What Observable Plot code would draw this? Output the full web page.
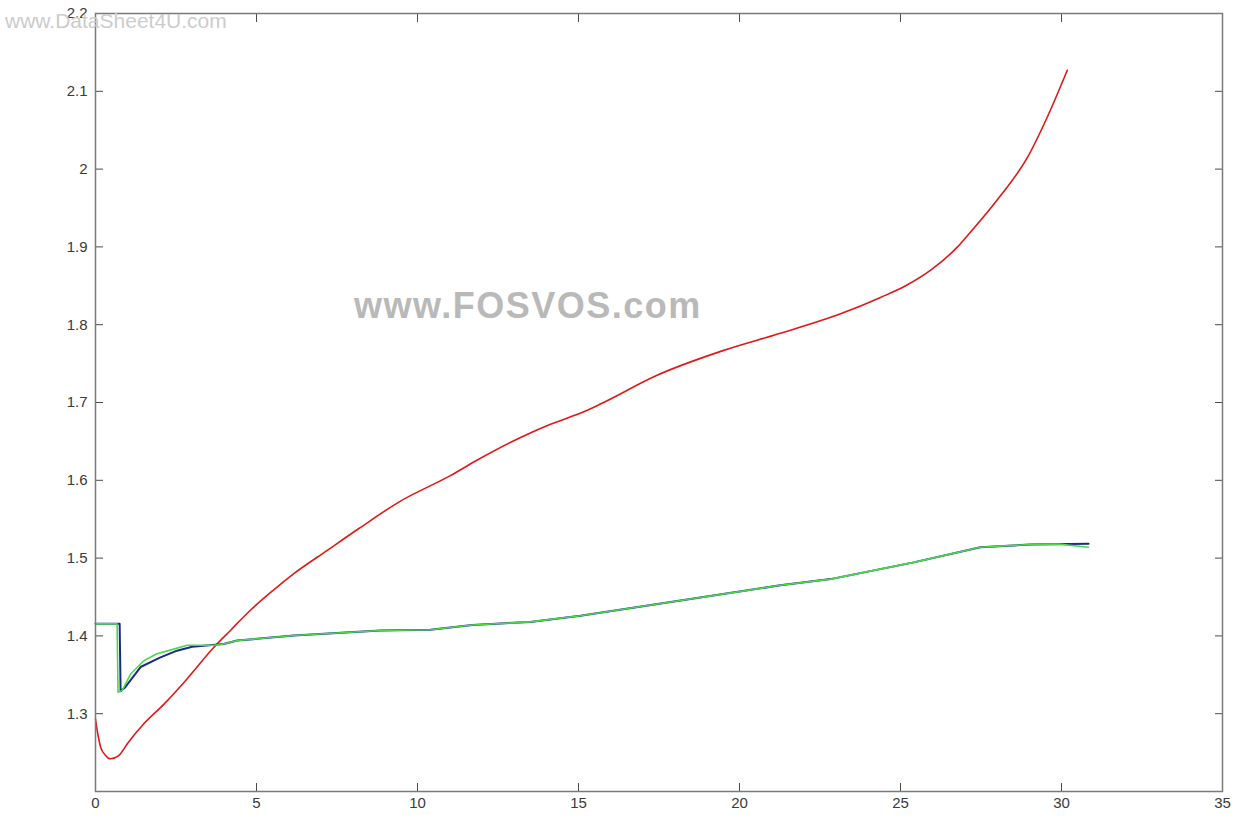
<!DOCTYPE html>
<html>
<head>
<meta charset="utf-8">
<script src="https://cdn.jsdelivr.net/npm/d3@7"></script>
<script src="https://cdn.jsdelivr.net/npm/@observablehq/plot@0.6"></script>
<style>
  html, body { margin: 0; padding: 0; background: #fff; }
  #wrap { position: relative; width: 1234px; height: 818px; overflow: hidden; }
  #wrap svg { position: absolute; left: 0; top: 0; }
  .wm1 { position: absolute; left: 5px; top: 9px; font: 21px "Liberation Sans", Arial, sans-serif; color: #cccccc; white-space: nowrap; }
  .wm2 { position: absolute; left: 354px; top: 285px; font: bold 36px "Liberation Sans", Arial, sans-serif; color: #b9b9b9; letter-spacing: 1.5px; white-space: nowrap; }
</style>
</head>
<body>
<div id="wrap"></div>
<script>
// Red series
const redX = [0, 0.08, 0.16, 0.3, 0.47, 0.72, 1.0, 1.5, 2.12, 2.85, 3.67, 4.19, 4.81, 5.5, 6.16, 7.2, 8.18, 9.42, 11.02, 11.9, 13.2, 14.13, 15.16, 15.68, 17.44, 19.51, 21.27, 23.14, 24.38, 25.16, 26.0, 26.77, 27.07, 28.11, 28.93, 29.55, 30.18];
const redY = [1.293, 1.272, 1.257, 1.247, 1.242, 1.246, 1.262, 1.287, 1.312, 1.345, 1.385, 1.407, 1.433, 1.458, 1.480, 1.510, 1.538, 1.572, 1.606, 1.627, 1.655, 1.672, 1.688, 1.698, 1.735, 1.767, 1.789, 1.814, 1.835, 1.850, 1.872, 1.900, 1.914, 1.966, 2.014, 2.066, 2.127];

// Blue series
const blueX = [0, 0.75, 0.78, 0.9, 1.4, 2.0, 2.53, 3.0, 3.98, 4.4, 6.16, 8.85, 10.4, 11.7, 13.5, 15.06, 18.17, 21.27, 22.83, 25.41, 27.48, 29.04, 30.84];
const blueY = [1.4155, 1.4155, 1.329, 1.333, 1.360, 1.372, 1.381, 1.386, 1.3895, 1.394, 1.4005, 1.407, 1.408, 1.414, 1.418, 1.426, 1.4455, 1.465, 1.473, 1.4945, 1.514, 1.5175, 1.5185];

// Green series
const greenX = [0, 0.67, 0.70, 0.83, 1.09, 1.5, 1.91, 2.43, 2.84, 3.67, 3.98, 4.4, 6.16, 8.85, 10.4, 11.7, 13.5, 15.06, 18.17, 21.27, 22.83, 25.41, 27.48, 29.04, 29.9, 30.84];
const greenY = [1.4155, 1.4155, 1.3276, 1.330, 1.351, 1.368, 1.377, 1.383, 1.388, 1.388, 1.3895, 1.394, 1.4005, 1.407, 1.408, 1.414, 1.418, 1.426, 1.4455, 1.465, 1.473, 1.4945, 1.514, 1.5175, 1.518, 1.514];

// Ticks
const xTicks = [0, 5, 10, 15, 20, 25, 30, 35];
const yTicks = [1.3, 1.4, 1.5, 1.6, 1.7, 1.8, 1.9, 2.0, 2.1, 2.2];

const toRows = (xs, ys) => xs.map((x, i) => ({x, y: ys[i]}));
const red = toRows(redX, redY);
const blue = toRows(blueX, blueY);
const green = toRows(greenX, greenY);

const axisStyle = {fontSize: 15, fontFamily: "Liberation Sans, Arial, sans-serif", color: "#3a3a3a"};
const tickStroke = "#4a4a4a";

const chart = Plot.plot({
  width: 1234,
  height: 818,
  marginLeft: 95,
  marginRight: 12,
  marginTop: 13,
  marginBottom: 27,
  style: {background: "#fff", ...axisStyle},
  x: {domain: [0, 35]},
  y: {domain: [1.2, 2.2]},
  marks: [
    Plot.axisX(xTicks, {anchor: "bottom", tickSize: -8, tickPadding: 14, stroke: tickStroke, fill: "#3a3a3a", tickFormat: d => String(d), label: null}),
    Plot.axisX(xTicks, {anchor: "top", tickSize: -8, stroke: tickStroke, tickFormat: () => "", label: null}),
    Plot.axisY(yTicks, {anchor: "left", tickSize: -8, tickPadding: 16, stroke: tickStroke, fill: "#3a3a3a", tickFormat: d => String(+d.toFixed(1)), label: null}),
    Plot.axisY(yTicks, {anchor: "right", tickSize: -8, stroke: tickStroke, tickFormat: () => "", label: null}),
    Plot.line(red, {x: "x", y: "y", stroke: "#e01818", strokeWidth: 1.6, curve: "monotone-x"}),
    Plot.line(blue, {x: "x", y: "y", stroke: "#1c2a8c", strokeWidth: 2}),
    Plot.line(green, {x: "x", y: "y", stroke: "#4cd84c", strokeWidth: 1.6}),
    Plot.frame({stroke: "#7a7a7a", strokeWidth: 1.5})
  ]
});

const wrap = document.getElementById("wrap");
wrap.appendChild(chart);
const w1 = document.createElement("div"); w1.className = "wm1"; w1.textContent = "www.DataSheet4U.com"; wrap.appendChild(w1);
const w2 = document.createElement("div"); w2.className = "wm2"; w2.textContent = "www.FOSVOS.com"; wrap.appendChild(w2);
</script>
</body>
</html>
